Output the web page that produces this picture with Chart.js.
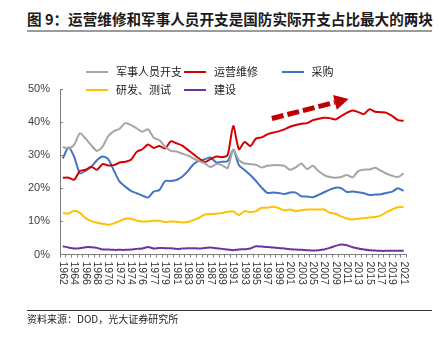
<!DOCTYPE html>
<html>
<head>
<meta charset="utf-8">
<script src="https://cdn.jsdelivr.net/npm/chart.js@4/dist/chart.umd.min.js"></script>
<style>
  html, body { margin: 0; padding: 0; background: #fff; }
  #wrap { position: relative; width: 439px; height: 341px; overflow: hidden; background: #fff; }
  #title { position: absolute; left: 27px; top: 8px; font: bold 14.6px "Noto Sans CJK SC", sans-serif; color: #1a1a1a; white-space: nowrap; }
  #rule { position: absolute; left: 27px; top: 30px; width: 405px; height: 2px; background: #9b9b9b; }
  #footRule { position: absolute; left: 27px; top: 310px; width: 405px; height: 1px; background: #333; }
  #source { position: absolute; left: 27px; top: 311px; font: 10px "Noto Sans CJK SC", sans-serif; color: #222; white-space: nowrap; line-height: 15px; }
  #chart { position: absolute; left: 0; top: 0; }
  .leg { position: absolute; height: 16px; line-height: 16px; font: 11px "Noto Sans CJK SC", sans-serif; color: #222; white-space: nowrap; }
  .leg i { display: inline-block; width: 22px; height: 2px; vertical-align: middle; margin-right: 8px; position: relative; top: -1px; }
</style>
</head>
<body>
<div id="wrap">
  <div id="title">图 9：运营维修和军事人员开支是国防实际开支占比最大的两块</div>
  <div id="rule"></div>
  <canvas id="chart" width="439" height="341"></canvas>
  <div id="footRule"></div>
  <div id="source">资料来源：DOD，光大证券研究所</div>
</div>
<script>
// Fiscal years (including the 1976 transition quarter)
const years = [
  '1962','1963','1964','1965','1966','1967','1968','1969','1970','1971',
  '1972','1973','1974','1975','1976','1976TQ','1977','1978','1979','1980',
  '1981','1982','1983','1984','1985','1986','1987','1988','1989','1990',
  '1991','1992','1993','1994','1995','1996','1997','1998','1999','2000',
  '2001','2002','2003','2004','2005','2006','2007','2008','2009','2010',
  '2011','2012','2013','2014','2015','2016','2017','2018','2019','2020','2021'
];

// Share of real defense outlays, %
const personnel = [
  32.5,32.0,33.2,36.6,35.0,33.0,31.3,32.6,35.8,37.3,
  38.0,39.7,39.1,38.1,37.1,37.8,35.3,34.5,32.6,31.3,
  31.1,30.5,29.9,29.0,28.2,27.5,26.4,27.3,27.0,26.1,
  31.7,28.5,27.5,27.3,27.1,26.3,26.8,27.0,27.0,26.8,
  25.6,26.3,27.5,25.8,26.8,25.2,24.0,23.4,23.2,23.4,
  24.0,23.3,25.2,25.6,25.7,26.2,25.3,24.4,23.8,23.4,24.5
];
const operations = [
  23.2,23.2,22.6,25.2,25.6,26.5,25.6,27.3,26.9,27.0,
  27.8,28.0,28.6,31.0,31.8,33.2,32.2,32.8,32.0,34.2,
  33.6,32.9,31.6,30.3,29.0,27.9,28.8,29.6,29.4,30.0,
  38.8,31.8,34.0,32.8,35.0,35.4,36.3,36.8,37.2,37.8,
  38.6,39.1,39.5,39.7,40.6,41.0,41.3,41.2,40.8,41.8,
  42.8,43.5,43.0,42.4,43.9,43.1,43.0,42.8,41.8,40.6,40.4
];
const procurement = [
  29.0,32.3,29.5,24.5,25.3,26.5,28.5,29.6,28.8,25.3,
  22.0,20.5,19.2,18.5,17.8,17.2,19.0,19.5,22.2,22.2,
  22.5,23.5,25.2,27.3,28.3,28.8,29.3,27.8,28.0,28.2,
  31.6,27.0,25.5,24.0,22.2,20.2,18.6,18.7,18.6,18.3,
  18.7,18.7,17.6,17.5,17.3,18.0,18.8,19.6,20.2,20.0,
  18.9,19.0,18.8,18.5,18.0,18.1,18.2,18.6,19.0,20.0,19.2
];
const rdte = [
  12.5,12.4,13.2,12.6,11.0,10.1,9.6,9.3,9.0,9.4,
  10.1,10.8,10.8,10.3,10.0,10.0,10.2,10.2,9.8,10.0,
  9.9,9.7,9.8,10.4,11.1,12.1,12.2,12.3,12.5,12.9,
  13.0,11.9,13.1,12.8,13.1,14.1,14.1,14.4,14.0,13.3,
  13.6,13.1,13.4,13.6,13.6,13.6,13.6,12.6,12.3,11.5,
  10.9,10.6,10.8,11.0,11.2,11.3,11.8,12.8,13.6,14.3,14.3
];
const construction = [
  2.5,2.1,1.8,1.9,2.2,2.2,2.0,1.5,1.5,1.4,
  1.4,1.4,1.5,1.7,1.8,2.3,1.8,2.0,1.9,1.9,
  1.7,1.8,1.9,1.9,1.8,2.0,2.1,1.9,1.7,1.5,
  1.3,1.5,1.6,1.8,2.5,2.4,2.3,2.1,2.0,1.8,
  1.6,1.5,1.4,1.3,1.2,1.3,1.5,2.0,2.6,3.0,
  2.8,2.2,1.8,1.5,1.3,1.2,1.1,1.1,1.1,1.1,1.1
];

const seriesNames = ['军事人员开支', '运营维修', '采购', '研发、测试', '建设'];
const seriesValues = [personnel, operations, procurement, rdte, construction];
const seriesColors = ['#a5a5a5', '#d40000', '#4472c4', '#ffc000', '#7030a0'];

// Legend slots (left edge of swatch, row centre)
const legendSlots = [[86, 71], [184, 71], [281.5, 71], [86, 89], [184, 89]];

// Trend arrow, in (category index, percent) units
const trendArrow = { from: [36.8, 41.1], to: [50.3, 47.0] };

// Legend
const wrap = document.getElementById('wrap');
seriesNames.forEach((name, k) => {
  const d = document.createElement('div');
  d.className = 'leg';
  d.style.left = legendSlots[k][0] + 'px';
  d.style.top = (legendSlots[k][1] - 8) + 'px';
  d.innerHTML = '<i style="background:' + seriesColors[k] + '"></i>' + name;
  wrap.appendChild(d);
});

const axisColor = '#7f7f7f';
const latin = '"Liberation Sans", Arial, "Noto Sans CJK SC", sans-serif';

// Year labels, written top-to-bottom under every second category
const yearLabels = {
  id: 'yearLabels',
  afterDraw(chart) {
    const sx = chart.scales.x;
    const ctx = chart.ctx;
    ctx.save();
    ctx.font = '10.5px ' + latin;
    ctx.fillStyle = '#333';
    ctx.textAlign = 'left';
    ctx.textBaseline = 'middle';
    chart.data.labels.forEach((lab, i) => {
      if (i % 2) return;
      ctx.save();
      ctx.translate(sx.getPixelForTick(i), chart.chartArea.bottom + 7);
      ctx.rotate(Math.PI / 2);
      ctx.fillText(lab, 0, 0);
      ctx.restore();
    });
    ctx.restore();
  }
};

// Dashed trend arrow over the operations series
const arrow = {
  id: 'trendArrow',
  afterDatasetsDraw(chart) {
    const { x, y } = chart.scales;
    const ctx = chart.ctx;
    const x0 = x.getPixelForValue(trendArrow.from[0]), y0 = y.getPixelForValue(trendArrow.from[1]);
    const x1 = x.getPixelForValue(trendArrow.to[0]), y1 = y.getPixelForValue(trendArrow.to[1]);
    const a = Math.atan2(y1 - y0, x1 - x0);
    const headLen = 14, headHalf = 7.5;
    const bx = x1 - headLen * Math.cos(a), by = y1 - headLen * Math.sin(a);
    ctx.save();
    ctx.strokeStyle = '#c00000';
    ctx.fillStyle = '#c00000';
    ctx.lineWidth = 5;
    ctx.setLineDash([12, 4]);
    ctx.beginPath();
    ctx.moveTo(x0, y0);
    ctx.lineTo(bx, by);
    ctx.stroke();
    ctx.setLineDash([]);
    ctx.beginPath();
    ctx.moveTo(x1, y1);
    ctx.lineTo(bx + headHalf * Math.sin(a), by - headHalf * Math.cos(a));
    ctx.lineTo(bx - headHalf * Math.sin(a), by + headHalf * Math.cos(a));
    ctx.closePath();
    ctx.fill();
    ctx.restore();
  }
};

new Chart(document.getElementById('chart'), {
  type: 'line',
  data: {
    labels: years,
    datasets: seriesNames.map((name, k) => ({
      label: name,
      data: seriesValues[k],
      borderColor: seriesColors[k],
      backgroundColor: seriesColors[k],
      borderWidth: 2,
      pointRadius: 0,
      tension: 0.25,
      fill: false
    }))
  },
  options: {
    responsive: false,
    animation: false,
    devicePixelRatio: 1,
    layout: { padding: { left: 0, top: 89, right: 32.5, bottom: 46.5 } },
    plugins: { legend: { display: false }, tooltip: { enabled: false } },
    scales: {
      x: {
        offset: true,
        ticks: { display: false, autoSkip: false },
        grid: { offset: true, drawOnChartArea: false, drawTicks: true, tickLength: 3, color: axisColor },
        border: { display: true, color: axisColor, width: 1 },
        afterFit(s) { s.height = 40; }
      },
      y: {
        min: 0,
        max: 50,
        ticks: {
          stepSize: 10,
          padding: 13,
          color: '#404040',
          font: { size: 11, family: latin },
          callback: v => v + '%'
        },
        grid: { drawOnChartArea: false, drawTicks: true, tickLength: -3, color: axisColor },
        border: { display: true, color: axisColor, width: 1 },
        afterFit(s) { s.width = 60; }
      }
    }
  },
  plugins: [yearLabels, arrow]
});
</script>
</body>
</html>
